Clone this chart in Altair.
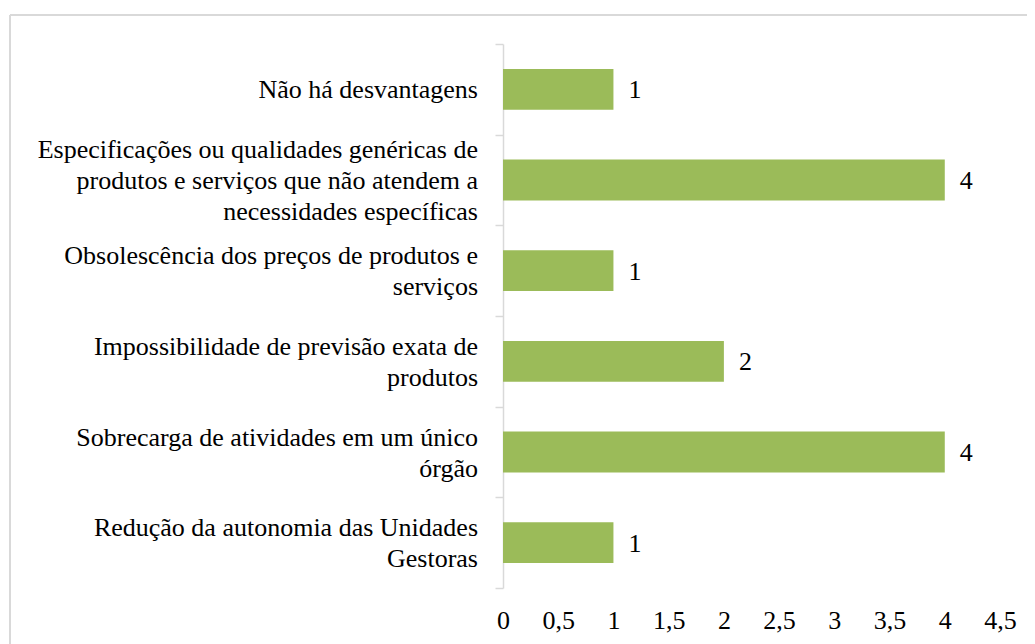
import altair as alt
import pandas as pd

categories = [
    "Não há desvantagens",
    "Especificações ou qualidades genéricas de\nprodutos e serviços que não atendem a\nnecessidades  específicas",
    "Obsolescência dos preços de produtos e\nserviços",
    "Impossibilidade de previsão exata de\nprodutos",
    "Sobrecarga de atividades em um único\nórgão",
    "Redução da autonomia das Unidades\nGestoras",
]
values = [1, 4, 1, 2, 4, 1]
x_ticks = [0, 0.5, 1, 1.5, 2, 2.5, 3, 3.5, 4, 4.5]

df = pd.DataFrame({"cat": categories, "val": values})

FONT = "Liberation Serif, Times New Roman, serif"
GREEN = "#9BBB59"
GRID = "#d9d9d9"
W, H = 497, 544
LH = 31

y_enc = alt.Y(
    "cat:N",
    sort=categories,
    scale=alt.Scale(paddingInner=0, paddingOuter=0),
    axis=alt.Axis(
        title=None,
        labels=False,
        domainColor=GRID,
        domainWidth=1.5,
        tickColor=GRID,
        tickWidth=1.5,
        tickSize=8,
        tickBand="extent",
        grid=False,
    ),
)

x_enc = alt.X(
    "val:Q",
    scale=alt.Scale(domain=[0, 4.5], nice=False),
    axis=alt.Axis(
        title=None,
        values=x_ticks,
        labelExpr="replace(toString(datum.value), '.', ',')",
        labelFont=FONT,
        labelFontSize=26,
        labelColor="#000000",
        labelPadding=19,
        labelFlush=False,
        labelOverlap=False,
        domain=False,
        ticks=False,
        grid=False,
    ),
)

bars = alt.Chart(df).mark_bar(
    color=GREEN, height=alt.RelativeBandSize(0.45)
).encode(x=x_enc, y=y_enc)

values_text = alt.Chart(df).mark_text(
    align="left", baseline="middle", dx=15, dy=1, font=FONT, fontSize=26, color="#000000"
).encode(x="val:Q", y=alt.Y("cat:N", sort=categories), text="val:Q")


def cat_labels(n):
    return (
        alt.Chart(df)
        .transform_calculate(nl="length(split(datum.cat, '\\n'))")
        .transform_filter(f"datum.nl == {n}")
        .mark_text(
            align="right",
            baseline="middle",
            dy=-(n - 1) * LH / 2 + 1,
            lineBreak="\n",
            lineHeight=LH,
            font=FONT,
            fontSize=26,
            color="#000000",
        )
        .encode(x=alt.value(-25), y=alt.Y("cat:N", sort=categories), text="cat:N")
    )


one = pd.DataFrame({"a": [0]})
border_top = alt.Chart(one).mark_rule(color=GRID, strokeWidth=2).encode(
    x=alt.value(-493), x2=alt.value(W + 200), y=alt.value(-29)
)
border_left = alt.Chart(one).mark_rule(color=GRID, strokeWidth=2).encode(
    x=alt.value(-493), y=alt.value(-29), y2=alt.value(H + 200)
)

chart = (
    alt.layer(border_top, border_left, bars, values_text, cat_labels(1), cat_labels(2), cat_labels(3))
    .properties(
        width=W,
        height=H,
        autosize=alt.AutoSizeParams(type="none"),
        padding={"left": 495, "top": 36, "right": 27, "bottom": 56},
    )
    .configure(background="white")
    .configure_view(strokeWidth=0, stroke="transparent")
)

chart.save("out.html", embed_options={"renderer": "svg", "actions": False})
